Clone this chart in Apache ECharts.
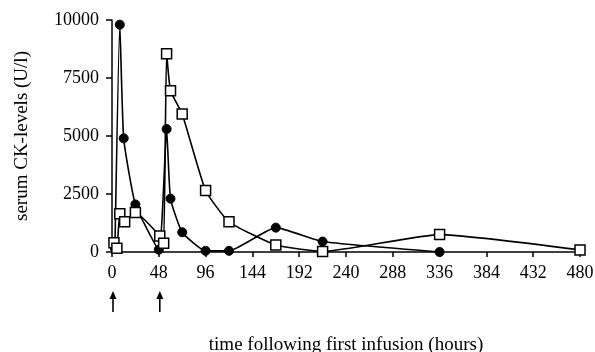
<!DOCTYPE html>
<html><head><meta charset="utf-8">
<script src="https://cdn.jsdelivr.net/npm/echarts@6/dist/echarts.min.js"></script>
<style>html,body{margin:0;padding:0;background:#fff}#c{width:595px;height:352px}</style>
</head><body><div id="c"></div>
<script>
// Data
var circleHours  = [3, 8, 12, 24, 48, 56, 60, 72, 96, 120, 168, 216, 336];
var circleValues = [150, 9800, 4900, 2050, 100, 5300, 2300, 850, 50, 50, 1050, 450, 0];
var squareHours  = [2, 5, 8, 13, 24, 49, 53, 56, 60, 72, 96, 120, 168, 216, 336, 480];
var squareValues = [400, 160, 1650, 1300, 1700, 690, 380, 8550, 6950, 5950, 2650, 1300, 300, 20, 750, 90];
var xTicks = [0, 48, 96, 144, 192, 240, 288, 336, 384, 432, 480];
var yTicks = [0, 2500, 5000, 7500, 10000];
var arrowHours = [0, 48];
var xTitle = 'time following first infusion (hours)';
var yTitle = 'serum CK-levels (U/l)';

function pairs(xs, ys){ return xs.map(function(x,i){ return [x, ys[i]]; }); }

var FONT = '"Liberation Serif", "Times New Roman", serif';
var chart = echarts.init(document.getElementById('c'), null, {renderer:'canvas'});
var option = {
  animation: false,
  backgroundColor: '#fff',
  grid: {left: 112, right: 15, top: 20, bottom: 100, containLabel: false, outerBoundsMode: 'none'},
  xAxis: {
    type: 'value', min: xTicks[0], max: xTicks[xTicks.length-1], interval: xTicks[1]-xTicks[0],
    axisLine: {show: true, lineStyle: {color: '#000', width: 1.5}},
    axisTick: {show: true, inside: false, length: 5, lineStyle: {color: '#000', width: 1.5}},
    axisLabel: {color: '#000', fontFamily: FONT, fontSize: 18, margin: 12,
      formatter: function(v){ return String(v); }},
    splitLine: {show: false},
    name: xTitle, nameLocation: 'middle', nameGap: 84,
    nameTextStyle: {color: '#000', fontFamily: FONT, fontSize: 19}
  },
  yAxis: {
    type: 'value', min: yTicks[0], max: yTicks[yTicks.length-1], interval: yTicks[1]-yTicks[0],
    axisLine: {show: true, lineStyle: {color: '#000', width: 1.5}},
    axisTick: {show: true, inside: false, length: 6, lineStyle: {color: '#000', width: 1.5}},
    axisLabel: {color: '#000', fontFamily: FONT, fontSize: 18, margin: 13,
      formatter: function(v){ return String(v); }},
    splitLine: {show: false},
    name: yTitle, nameLocation: 'middle', nameGap: 80, nameRotate: 90,
    nameTextStyle: {color: '#000', fontFamily: FONT, fontSize: 19}
  },
  series: [
    {
      type: 'line', data: pairs(circleHours, circleValues), smooth: 0.15,
      symbol: 'circle', symbolSize: 9,
      lineStyle: {color: '#000', width: 1.6},
      itemStyle: {color: '#000', borderColor: '#000'}
    },
    {
      type: 'line', data: pairs(squareHours, squareValues), smooth: 0.15,
      symbol: 'rect', symbolSize: 10,
      lineStyle: {color: '#000', width: 1.6},
      itemStyle: {color: '#fff', borderColor: '#000', borderWidth: 1.5}
    }
  ]
};
chart.setOption(option);

// Arrows marking the infusions, placed via the axis scale
var graphics = [];
arrowHours.forEach(function(h){
  var p = chart.convertToPixel({xAxisIndex:0, yAxisIndex:0}, [h, 0]);
  var x = p[0] + 1, top = p[1] + 39, bottom = p[1] + 60;
  graphics.push({type:'line', shape:{x1:x, y1:top+6, x2:x, y2:bottom}, style:{stroke:'#000', lineWidth:1.6}});
  graphics.push({type:'polygon', shape:{points:[[x, top],[x-3.5, top+8],[x+3.5, top+8]]}, style:{fill:'#000'}});
});
chart.setOption({graphic: graphics});
</script></body></html>
